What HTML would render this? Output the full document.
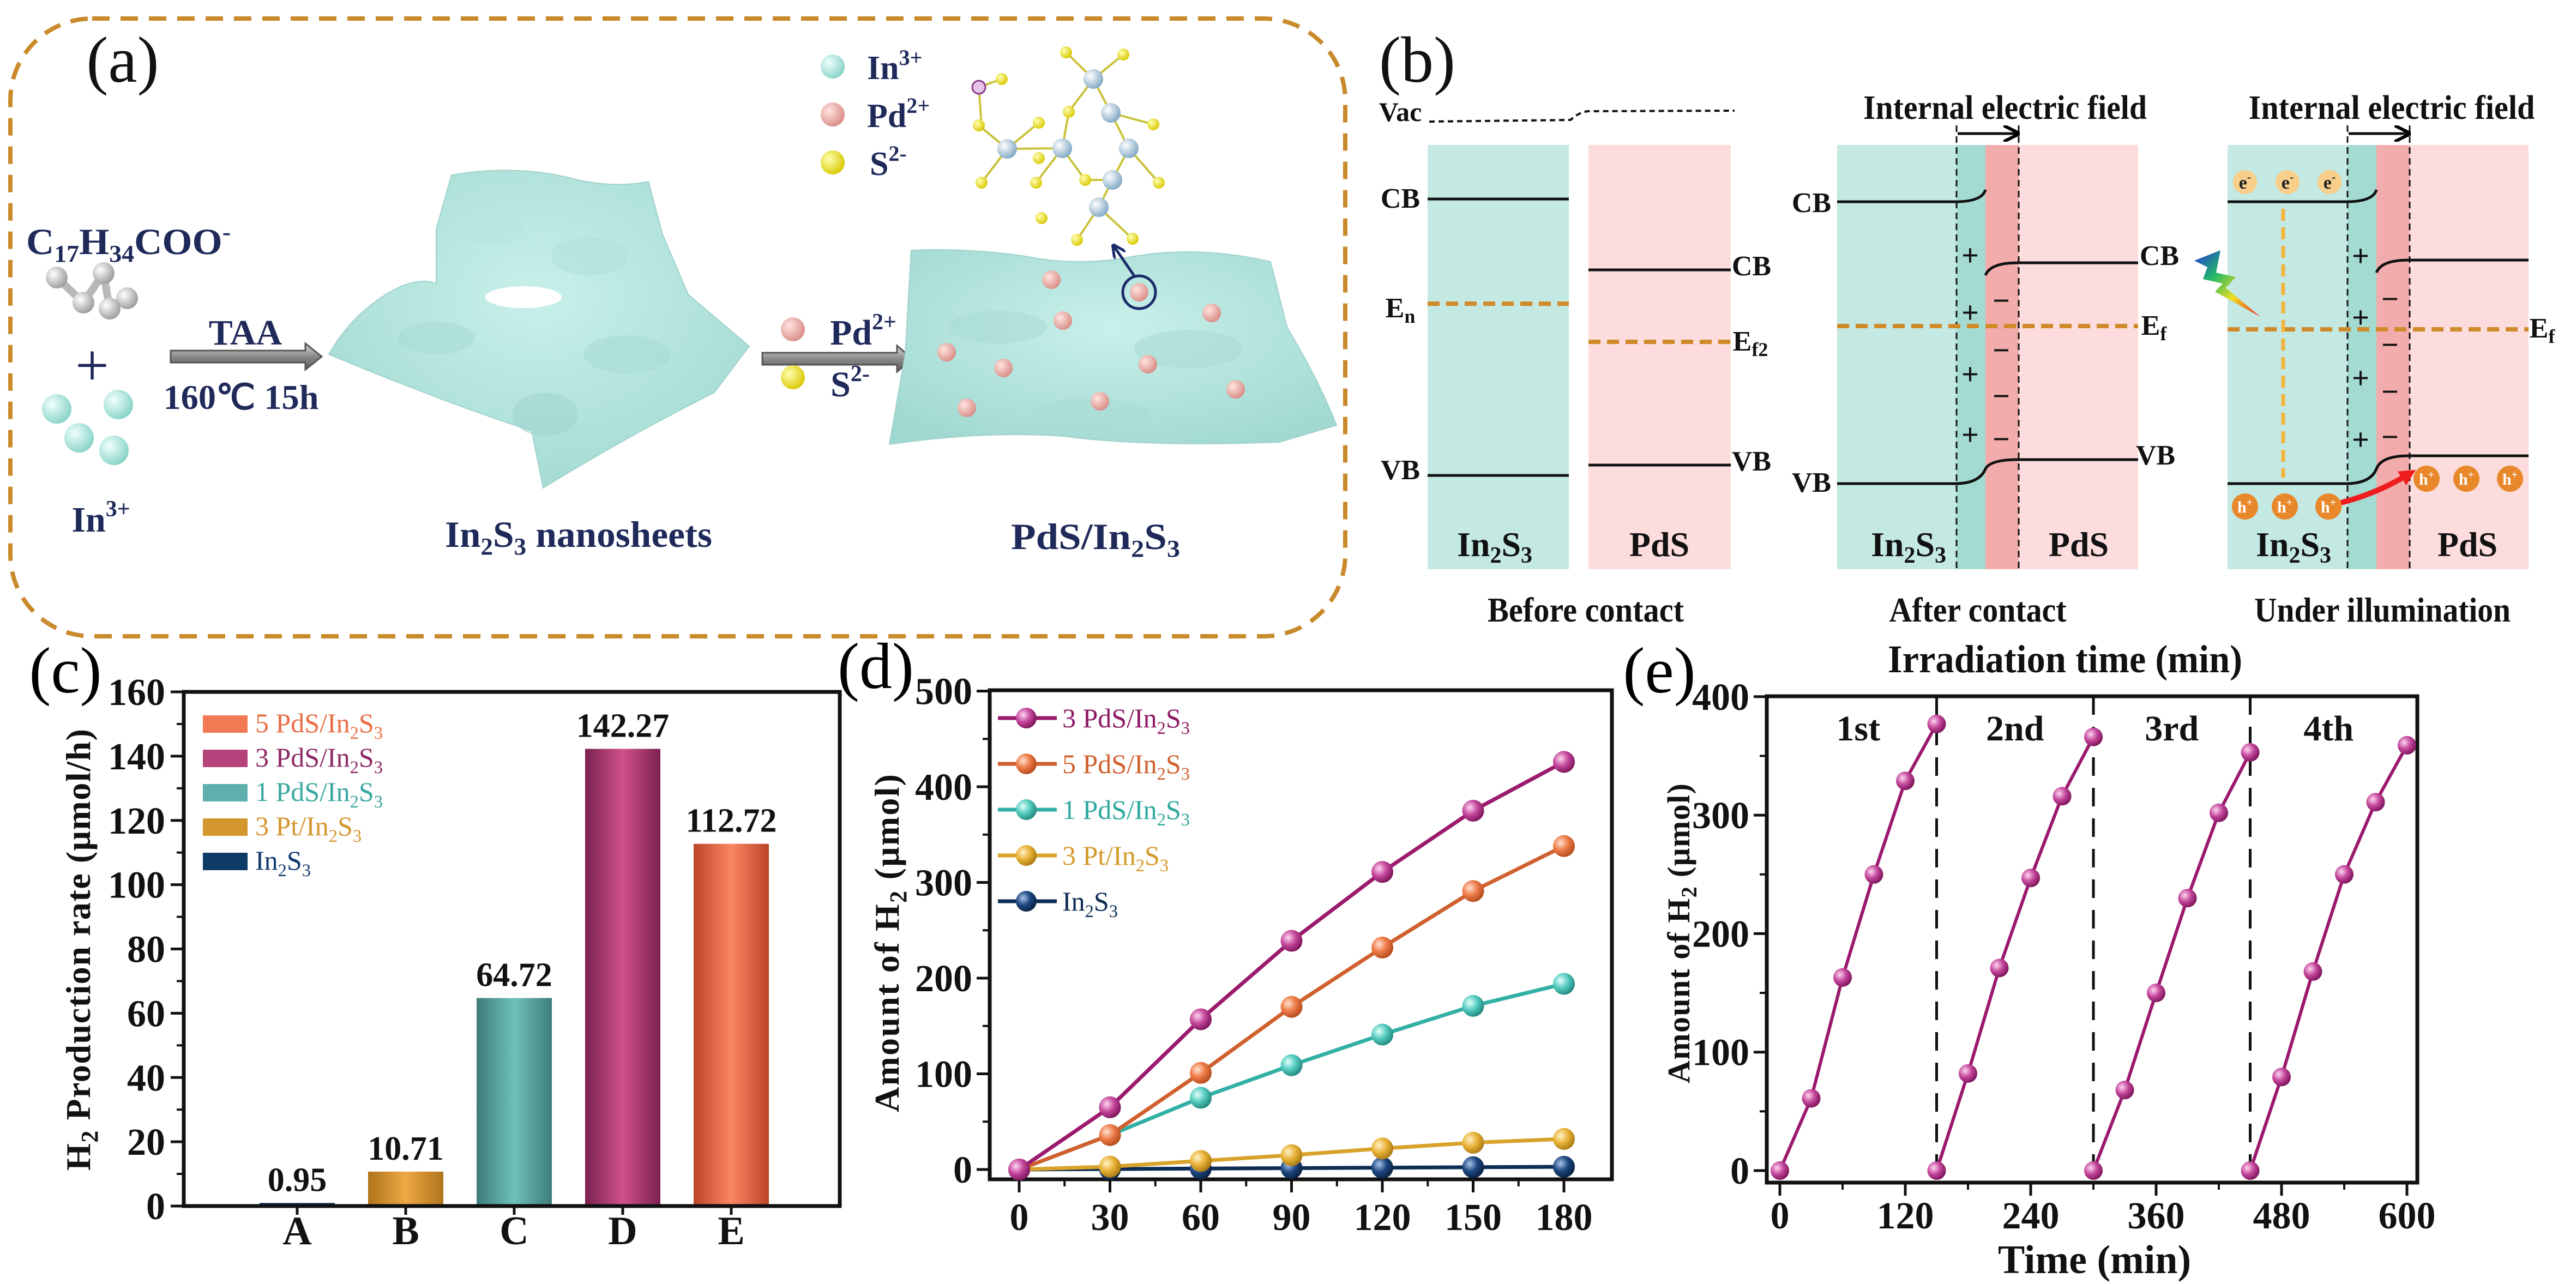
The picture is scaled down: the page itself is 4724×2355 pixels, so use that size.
<!DOCTYPE html>
<html><head><meta charset="utf-8"><title>PdS/In2S3 figure</title>
<style>
html,body{margin:0;padding:0;background:#fff;}
svg{display:block;}
text{font-family:"Liberation Serif",serif;font-weight:bold;}
</style></head>
<body>
<svg id="fig" xmlns="http://www.w3.org/2000/svg" width="4724" height="2355" viewBox="0 0 4724 2355">
<defs>
  <linearGradient id="gB" x1="0" x2="1"><stop offset="0" stop-color="#b0741c"/><stop offset="0.5" stop-color="#eda944"/><stop offset="1" stop-color="#b0741c"/></linearGradient>
  <linearGradient id="gC" x1="0" x2="1"><stop offset="0" stop-color="#3d7c79"/><stop offset="0.5" stop-color="#6fc0bb"/><stop offset="1" stop-color="#3d7c79"/></linearGradient>
  <linearGradient id="gD" x1="0" x2="1"><stop offset="0" stop-color="#7a2150"/><stop offset="0.5" stop-color="#d0508c"/><stop offset="1" stop-color="#7a2150"/></linearGradient>
  <linearGradient id="gE" x1="0" x2="1"><stop offset="0" stop-color="#bc4428"/><stop offset="0.5" stop-color="#fb8663"/><stop offset="1" stop-color="#bc4428"/></linearGradient>
  <linearGradient id="gA" x1="0" x2="1"><stop offset="0" stop-color="#0b2c55"/><stop offset="1" stop-color="#0b2c55"/></linearGradient>
  <radialGradient id="mP" cx="0.35" cy="0.35" r="0.7"><stop offset="0" stop-color="#ffd6f0"/><stop offset="0.5" stop-color="#c4479c"/><stop offset="1" stop-color="#7a1257"/></radialGradient>
  <radialGradient id="mO" cx="0.35" cy="0.35" r="0.7"><stop offset="0" stop-color="#ffe1cf"/><stop offset="0.5" stop-color="#ee7a48"/><stop offset="1" stop-color="#b24a1c"/></radialGradient>
  <radialGradient id="mT" cx="0.35" cy="0.35" r="0.7"><stop offset="0" stop-color="#e4fffb"/><stop offset="0.5" stop-color="#55cbbf"/><stop offset="1" stop-color="#21857c"/></radialGradient>
  <radialGradient id="mY" cx="0.35" cy="0.35" r="0.7"><stop offset="0" stop-color="#fff3c8"/><stop offset="0.5" stop-color="#e8b237"/><stop offset="1" stop-color="#a87812"/></radialGradient>
  <radialGradient id="mN" cx="0.35" cy="0.35" r="0.7"><stop offset="0" stop-color="#a8c4e8"/><stop offset="0.5" stop-color="#1d4780"/><stop offset="1" stop-color="#07203f"/></radialGradient>
  <radialGradient id="bCyan" cx="0.35" cy="0.35" r="0.7"><stop offset="0" stop-color="#f0fffc"/><stop offset="1" stop-color="#86d3c7"/></radialGradient>
  <radialGradient id="bPink" cx="0.35" cy="0.35" r="0.7"><stop offset="0" stop-color="#ffe4e0"/><stop offset="1" stop-color="#d98b85"/></radialGradient>
  <radialGradient id="bYel" cx="0.35" cy="0.35" r="0.7"><stop offset="0" stop-color="#ffffb0"/><stop offset="1" stop-color="#d9c800"/></radialGradient>
  <radialGradient id="bGray" cx="0.35" cy="0.35" r="0.7"><stop offset="0" stop-color="#ffffff"/><stop offset="1" stop-color="#9a9a9a"/></radialGradient>
  <radialGradient id="bBlue" cx="0.35" cy="0.35" r="0.7"><stop offset="0" stop-color="#ffffff"/><stop offset="1" stop-color="#7fa7c4"/></radialGradient>
  <radialGradient id="sheet" cx="0.5" cy="0.4" r="0.7"><stop offset="0" stop-color="#c9f0ea"/><stop offset="1" stop-color="#9fd8d0"/></radialGradient>
  <linearGradient id="arrowG" x1="0" y1="0" x2="0" y2="1"><stop offset="0" stop-color="#d8d8d8"/><stop offset="0.5" stop-color="#8a8a8a"/><stop offset="1" stop-color="#5a5a5a"/></linearGradient>
  <linearGradient id="bolt" x1="0" y1="0" x2="1" y2="1"><stop offset="0" stop-color="#2233dd"/><stop offset="0.35" stop-color="#22bb66"/><stop offset="0.65" stop-color="#eedd22"/><stop offset="1" stop-color="#ee2222"/></linearGradient>
  <marker id="arrHead" viewBox="0 0 10 10" refX="8" refY="5" markerWidth="6" markerHeight="6" orient="auto"><path d="M0,0 L10,5 L0,10" fill="none" stroke="#000" stroke-width="2"/></marker>
  <marker id="navyHead" viewBox="0 0 10 10" refX="8" refY="5" markerWidth="5" markerHeight="5" orient="auto"><path d="M0,0 L10,5 L0,10" fill="none" stroke="#1a2a6a" stroke-width="2"/></marker>
  <marker id="redHead" viewBox="0 0 10 10" refX="6" refY="5" markerWidth="3" markerHeight="3" orient="auto"><path d="M0,0 L10,5 L0,10 Z" fill="#ee1c1c"/></marker>
</defs>

<!-- ================= PANEL (a) ================= -->
<g>
  <rect x="19" y="34" width="2448" height="1133" rx="150" ry="150" fill="none" stroke="#c98a2c" stroke-width="8" stroke-dasharray="32 20"/>
  <text x="225" y="150" font-size="120" style="font-weight:normal" text-anchor="middle" fill="#111">(a)</text>
  <text x="48" y="466" font-size="68" fill="#1f2a5a" textLength="375" lengthAdjust="spacingAndGlyphs">C<tspan font-size="44" dy="14">17</tspan><tspan dy="-14">H</tspan><tspan font-size="44" dy="14">34</tspan><tspan dy="-14">COO</tspan><tspan font-size="44" dy="-26">-</tspan></text>
  <g stroke="#b8b8b8" stroke-width="14">
    <line x1="104" y1="509" x2="153" y2="555"/><line x1="153" y1="555" x2="190" y2="501"/><line x1="190" y1="501" x2="201" y2="566"/><line x1="201" y1="566" x2="233" y2="547"/>
    <circle cx="104" cy="509" r="20" fill="url(#bGray)" stroke="none"/><circle cx="190" cy="501" r="20" fill="url(#bGray)" stroke="none"/><circle cx="153" cy="555" r="20" fill="url(#bGray)" stroke="none"/><circle cx="233" cy="547" r="20" fill="url(#bGray)" stroke="none"/><circle cx="201" cy="566" r="20" fill="url(#bGray)" stroke="none"/>
  </g>
  <text x="169" y="707" font-size="110" style="font-weight:normal" text-anchor="middle" fill="#1f2a5a">+</text>
  <g>
    <circle cx="104" cy="750" r="27" fill="url(#bCyan)"/><circle cx="217" cy="742" r="27" fill="url(#bCyan)"/><circle cx="145" cy="803" r="27" fill="url(#bCyan)"/><circle cx="209" cy="826" r="27" fill="url(#bCyan)"/>
  </g>
  <text x="185" y="975" font-size="66" text-anchor="middle" fill="#1f2a5a">In<tspan font-size="42" dy="-28">3+</tspan></text>
  <g>
    <path d="M313,643 L560,643 L560,630 L590,654 L560,678 L560,665 L313,665 Z" fill="url(#arrowG)" stroke="#555" stroke-width="3"/>
  </g>
  <text x="450" y="632" font-size="66" text-anchor="middle" fill="#1f2a5a">TAA</text>
  <text x="442" y="750" font-size="64" text-anchor="middle" fill="#1f2a5a" textLength="285" lengthAdjust="spacingAndGlyphs">160℃ 15h</text>
  <g>
    <path d="M828,321 Q950,300 1060,330 Q1130,345 1189,333 L1215,430 L1262,540 L1374,635 L1310,720 Q1150,800 996,895 L975,790 Q820,740 603,650 Q640,585 700,545 Q760,505 800,520 L800,420 Z" fill="url(#sheet)" stroke="#9fd3cb" stroke-width="2"/>
    <ellipse cx="960" cy="545" rx="70" ry="20" fill="#fff"/>
    <ellipse cx="900" cy="420" rx="60" ry="30" fill="#b9e6df" opacity="0.7"/>
    <ellipse cx="1080" cy="470" rx="70" ry="35" fill="#b3e3dc" opacity="0.7"/>
    <ellipse cx="800" cy="620" rx="70" ry="30" fill="#a9dcd4" opacity="0.6"/>
    <ellipse cx="1150" cy="650" rx="80" ry="35" fill="#a9dcd4" opacity="0.6"/>
    <ellipse cx="1000" cy="760" rx="60" ry="40" fill="#a2d6ce" opacity="0.6"/>
  </g>
  <text x="1061" y="1003" font-size="68" text-anchor="middle" fill="#1f2a5a" textLength="490" lengthAdjust="spacingAndGlyphs">In<tspan font-size="44" dy="14">2</tspan><tspan dy="-14">S</tspan><tspan font-size="44" dy="14">3</tspan><tspan dy="-14"> nanosheets</tspan></text>
  <g>
    <path d="M1398,647 L1645,647 L1645,634 L1673,658 L1645,682 L1645,669 L1398,669 Z" fill="url(#arrowG)" stroke="#555" stroke-width="3"/>
  </g>
  <circle cx="1454" cy="604" r="22" fill="url(#bPink)"/>
  <text x="1583" y="632" font-size="66" text-anchor="middle" fill="#1f2a5a">Pd<tspan font-size="42" dy="-28">2+</tspan></text>
  <circle cx="1454" cy="692" r="22" fill="url(#bYel)"/>
  <text x="1559" y="727" font-size="66" text-anchor="middle" fill="#1f2a5a">S<tspan font-size="42" dy="-28">2-</tspan></text>
  <g>
    <path d="M1671,459 Q1780,455 1880,470 Q1980,490 2080,470 Q2200,450 2330,480 L2360,600 Q2420,700 2451,780 L2346,811 Q2100,820 1950,800 Q1800,790 1631,815 L1660,650 Z" fill="url(#sheet)" stroke="#9fd3cb" stroke-width="2"/>
    <ellipse cx="1830" cy="600" rx="90" ry="30" fill="#aadcd4" opacity="0.6"/>
    <ellipse cx="2180" cy="640" rx="100" ry="35" fill="#aadcd4" opacity="0.6"/>
    <ellipse cx="2000" cy="760" rx="110" ry="30" fill="#aadcd4" opacity="0.5"/>
  </g>
  <g>
    <circle cx="1928" cy="513" r="17" fill="url(#bPink)"/><circle cx="2089" cy="536" r="17" fill="url(#bPink)"/><circle cx="1949" cy="588" r="17" fill="url(#bPink)"/><circle cx="2222" cy="574" r="17" fill="url(#bPink)"/><circle cx="1736" cy="646" r="17" fill="url(#bPink)"/><circle cx="1840" cy="675" r="17" fill="url(#bPink)"/><circle cx="2105" cy="668" r="17" fill="url(#bPink)"/><circle cx="2266" cy="714" r="17" fill="url(#bPink)"/><circle cx="1773" cy="748" r="17" fill="url(#bPink)"/><circle cx="2017" cy="736" r="17" fill="url(#bPink)"/>
  </g>
  <circle cx="2089" cy="536" r="30" fill="none" stroke="#1a2a6a" stroke-width="5"/>
  <line x1="2080" y1="506" x2="2043" y2="452" stroke="#1a2a6a" stroke-width="5" marker-end="url(#navyHead)"/>
  <text x="2009" y="1007" font-size="68" text-anchor="middle" fill="#1f2a5a" textLength="310" lengthAdjust="spacingAndGlyphs">PdS/In<tspan font-size="44" dy="14">2</tspan><tspan dy="-14">S</tspan><tspan font-size="44" dy="14">3</tspan></text>
  <g>
    <circle cx="1527" cy="122" r="22" fill="url(#bCyan)"/><text x="1590" y="145" font-size="62" fill="#1f2a5a">In<tspan font-size="40" dy="-26">3+</tspan></text>
    <circle cx="1527" cy="210" r="22" fill="url(#bPink)"/><text x="1590" y="233" font-size="62" fill="#1f2a5a">Pd<tspan font-size="40" dy="-26">2+</tspan></text>
    <circle cx="1527" cy="298" r="22" fill="url(#bYel)"/><text x="1595" y="321" font-size="62" fill="#1f2a5a">S<tspan font-size="40" dy="-26">2-</tspan></text>
  </g>
  <g stroke="#c9c23a" stroke-width="4">
    <line x1="1955" y1="96" x2="2005" y2="145"/><line x1="2060" y1="100" x2="2005" y2="145"/><line x1="2005" y1="145" x2="2037" y2="207"/><line x1="2037" y1="207" x2="2070" y2="272"/><line x1="2005" y1="145" x2="1960" y2="205"/><line x1="1960" y1="205" x2="1948" y2="272"/><line x1="1948" y1="272" x2="1847" y2="273"/><line x1="1847" y1="273" x2="1795" y2="230"/><line x1="1948" y1="272" x2="1900" y2="335"/><line x1="1948" y1="272" x2="1990" y2="330"/><line x1="2070" y1="272" x2="2040" y2="330"/><line x1="2040" y1="330" x2="2015" y2="380"/><line x1="2015" y1="380" x2="1975" y2="440"/><line x1="2015" y1="380" x2="2077" y2="438"/><line x1="2070" y1="272" x2="2125" y2="335"/><line x1="2037" y1="207" x2="2115" y2="228"/><line x1="1847" y1="273" x2="1800" y2="335"/><line x1="1847" y1="273" x2="1905" y2="225"/><line x1="1990" y1="330" x2="2040" y2="330"/><line x1="1795" y1="160" x2="1800" y2="230"/><line x1="1795" y1="160" x2="1837" y2="145"/>
    <g stroke="none" fill="url(#bYel)">
      <circle cx="1955" cy="96" r="11"/><circle cx="2060" cy="100" r="11"/><circle cx="1960" cy="205" r="11"/><circle cx="2115" cy="228" r="11"/><circle cx="1795" cy="230" r="11"/><circle cx="1900" cy="335" r="11"/><circle cx="1990" cy="330" r="11"/><circle cx="2125" cy="335" r="11"/><circle cx="1975" cy="440" r="11"/><circle cx="2077" cy="438" r="11"/><circle cx="1800" cy="335" r="11"/><circle cx="1905" cy="225" r="11"/><circle cx="1837" cy="145" r="11"/><circle cx="1905" cy="290" r="11"/><circle cx="1910" cy="400" r="11"/>
    </g>
    <g stroke="none" fill="url(#bBlue)">
      <circle cx="2005" cy="145" r="18"/><circle cx="2037" cy="207" r="18"/><circle cx="1948" cy="272" r="18"/><circle cx="1847" cy="273" r="18"/><circle cx="2070" cy="272" r="18"/><circle cx="2040" cy="330" r="18"/><circle cx="2015" cy="380" r="18"/>
    </g>
    <circle cx="1795" cy="160" r="12" fill="#e6c6e8" stroke="#8a3a8a" stroke-width="3"/>
  </g>
</g>

<!-- ================= PANEL (b) ================= -->
<g>
  <text x="2599" y="150" font-size="120" style="font-weight:normal" text-anchor="middle" fill="#111">(b)</text>
  <text x="2568" y="222" font-size="50" text-anchor="middle" fill="#111">Vac</text>
  <path d="M2621,223 L2880,220 Q2895,206 2912,204 L3181,203" fill="none" stroke="#111" stroke-width="4" stroke-dasharray="10 7"/>
  <g>
    <rect x="2618" y="266" width="259" height="778" fill="#c4e8e2"/>
    <rect x="2913" y="266" width="261" height="778" fill="#fcdcdc"/>
    <line x1="2618" y1="365" x2="2877" y2="365" stroke="#111" stroke-width="5"/>
    <line x1="2618" y1="872" x2="2877" y2="872" stroke="#111" stroke-width="5"/>
    <line x1="2618" y1="557" x2="2877" y2="557" stroke="#d08a2a" stroke-width="8" stroke-dasharray="22 12"/>
    <line x1="2913" y1="495" x2="3174" y2="495" stroke="#111" stroke-width="5"/>
    <line x1="2913" y1="853" x2="3174" y2="853" stroke="#111" stroke-width="5"/>
    <line x1="2913" y1="627" x2="3174" y2="627" stroke="#d08a2a" stroke-width="8" stroke-dasharray="22 12"/>
    <g font-size="52" fill="#111">
      <text x="2568" y="381" text-anchor="middle">CB</text>
      <text x="2568" y="582" text-anchor="middle">E<tspan font-size="36" dy="10">n</tspan></text>
      <text x="2568" y="879" text-anchor="middle">VB</text>
      <text x="3212" y="505" text-anchor="middle">CB</text>
      <text x="3210" y="643" text-anchor="middle">E<tspan font-size="36" dy="10">f2</tspan></text>
      <text x="3212" y="863" text-anchor="middle">VB</text>
    </g>
    <text x="2741" y="1020" font-size="64" text-anchor="middle" fill="#111">In<tspan font-size="42" dy="12">2</tspan><tspan dy="-12">S</tspan><tspan font-size="42" dy="12">3</tspan></text>
    <text x="3043" y="1020" font-size="64" text-anchor="middle" fill="#111">PdS</text>
  </g>
  <text x="2908" y="1140" font-size="64" text-anchor="middle" fill="#111" textLength="360" lengthAdjust="spacingAndGlyphs">Before contact</text>
  <g>
    <rect x="3369" y="266" width="272" height="778" fill="#c4e8e2"/>
    <rect x="3588" y="266" width="53" height="778" fill="#a3dbd2"/>
    <rect x="3641" y="266" width="61" height="778" fill="#f2acac"/>
    <rect x="3702" y="266" width="219" height="778" fill="#fcdcdc"/>
    <line x1="3588" y1="230" x2="3588" y2="1044" stroke="#111" stroke-width="3" stroke-dasharray="12 8"/>
    <line x1="3702" y1="230" x2="3702" y2="1044" stroke="#111" stroke-width="3" stroke-dasharray="12 8"/>
    <line x1="3590" y1="245" x2="3698" y2="245" stroke="#111" stroke-width="5" marker-end="url(#arrHead)"/>
    <path d="M3369,370 L3585,370 Q3635,370 3641,348" fill="none" stroke="#111" stroke-width="5"/>
    <path d="M3641,505 Q3650,482 3700,482 L3921,482" fill="none" stroke="#111" stroke-width="5"/>
    <line x1="3369" y1="598" x2="3921" y2="598" stroke="#d08a2a" stroke-width="8" stroke-dasharray="22 12"/>
    <path d="M3369,887 L3585,887 Q3630,887 3641,860 Q3650,843 3700,843 L3921,843" fill="none" stroke="#111" stroke-width="5"/>
    <g font-size="56" fill="#111" text-anchor="middle" style="font-weight:normal">
      <text x="3613" y="487">+</text><text x="3613" y="592">+</text><text x="3613" y="705">+</text><text x="3613" y="816">+</text>
      <text x="3670" y="570">−</text><text x="3670" y="661">−</text><text x="3670" y="745">−</text><text x="3670" y="824">−</text>
    </g>
    <g font-size="52" fill="#111">
      <text x="3322" y="389" text-anchor="middle">CB</text>
      <text x="3960" y="486" text-anchor="middle">CB</text>
      <text x="3950" y="614" text-anchor="middle">E<tspan font-size="36" dy="10">f</tspan></text>
      <text x="3953" y="852" text-anchor="middle">VB</text>
      <text x="3322" y="902" text-anchor="middle">VB</text>
    </g>
    <text x="3500" y="1020" font-size="64" text-anchor="middle" fill="#111">In<tspan font-size="42" dy="12">2</tspan><tspan dy="-12">S</tspan><tspan font-size="42" dy="12">3</tspan></text>
    <text x="3812" y="1020" font-size="64" text-anchor="middle" fill="#111">PdS</text>
  </g>
  <text x="3677" y="218" font-size="62" text-anchor="middle" fill="#111" textLength="520" lengthAdjust="spacingAndGlyphs">Internal electric field</text>
  <text x="3627" y="1140" font-size="64" text-anchor="middle" fill="#111" textLength="325" lengthAdjust="spacingAndGlyphs">After contact</text>
  <g>
    <rect x="4085" y="266" width="273" height="778" fill="#c4e8e2"/>
    <rect x="4305" y="266" width="53" height="778" fill="#a3dbd2"/>
    <rect x="4358" y="266" width="61" height="778" fill="#f2acac"/>
    <rect x="4419" y="266" width="218" height="778" fill="#fcdcdc"/>
    <line x1="4305" y1="230" x2="4305" y2="1044" stroke="#111" stroke-width="3" stroke-dasharray="12 8"/>
    <line x1="4419" y1="230" x2="4419" y2="1044" stroke="#111" stroke-width="3" stroke-dasharray="12 8"/>
    <line x1="4307" y1="245" x2="4415" y2="245" stroke="#111" stroke-width="5" marker-end="url(#arrHead)"/>
    <path d="M4085,370 L4302,370 Q4352,370 4358,348" fill="none" stroke="#111" stroke-width="5"/>
    <path d="M4358,500 Q4367,477 4417,477 L4637,477" fill="none" stroke="#111" stroke-width="5"/>
    <line x1="4085" y1="604" x2="4637" y2="604" stroke="#d08a2a" stroke-width="8" stroke-dasharray="22 12"/>
    <line x1="4187" y1="383" x2="4187" y2="876" stroke="#f2b43c" stroke-width="7" stroke-dasharray="22 12"/>
    <path d="M4085,887 L4302,887 Q4347,887 4358,860 Q4367,836 4417,836 L4637,836" fill="none" stroke="#111" stroke-width="5"/>
    <g font-size="56" fill="#111" text-anchor="middle" style="font-weight:normal">
      <text x="4329" y="488">+</text><text x="4329" y="601">+</text><text x="4329" y="712">+</text><text x="4329" y="825">+</text>
      <text x="4383" y="567">−</text><text x="4383" y="651">−</text><text x="4383" y="737">−</text><text x="4383" y="820">−</text>
    </g>
    <g>
      <circle cx="4117" cy="334" r="22" fill="#f7cf8a"/><circle cx="4195" cy="334" r="22" fill="#f7cf8a"/><circle cx="4272" cy="334" r="22" fill="#f7cf8a"/>
      <g font-size="34" fill="#222" text-anchor="middle"><text x="4117" y="346">e<tspan font-size="22" dy="-14">-</tspan></text><text x="4195" y="346">e<tspan font-size="22" dy="-14">-</tspan></text><text x="4272" y="346">e<tspan font-size="22" dy="-14">-</tspan></text></g>
    </g>
    <g>
      <circle cx="4117" cy="929" r="24" fill="#e8882a"/><circle cx="4190" cy="929" r="24" fill="#e8882a"/><circle cx="4270" cy="929" r="24" fill="#e8882a"/>
      <circle cx="4450" cy="878" r="24" fill="#e8882a"/><circle cx="4523" cy="878" r="24" fill="#e8882a"/><circle cx="4603" cy="878" r="24" fill="#e8882a"/>
      <g font-size="30" fill="#fff" text-anchor="middle"><text x="4117" y="940">h<tspan font-size="20" dy="-12">+</tspan></text><text x="4190" y="940">h<tspan font-size="20" dy="-12">+</tspan></text><text x="4270" y="940">h<tspan font-size="20" dy="-12">+</tspan></text><text x="4450" y="889">h<tspan font-size="20" dy="-12">+</tspan></text><text x="4523" y="889">h<tspan font-size="20" dy="-12">+</tspan></text><text x="4603" y="889">h<tspan font-size="20" dy="-12">+</tspan></text></g>
    </g>
    <path d="M4293,922 Q4360,905 4420,868" fill="none" stroke="#ee1c1c" stroke-width="10" marker-end="url(#redHead)"/>
    <path d="M4024,478 L4072,459 L4064,500 L4100,508 L4082,528 L4145,581 L4062,535 L4076,520 L4040,512 L4048,490 Z" fill="url(#bolt)"/>
    <g font-size="52" fill="#111"><text x="4662" y="619" text-anchor="middle">E<tspan font-size="36" dy="10">f</tspan></text></g>
    <text x="4206" y="1020" font-size="64" text-anchor="middle" fill="#111">In<tspan font-size="42" dy="12">2</tspan><tspan dy="-12">S</tspan><tspan font-size="42" dy="12">3</tspan></text>
    <text x="4525" y="1020" font-size="64" text-anchor="middle" fill="#111">PdS</text>
  </g>
  <text x="4386" y="218" font-size="62" text-anchor="middle" fill="#111" textLength="525" lengthAdjust="spacingAndGlyphs">Internal electric field</text>
  <text x="4369" y="1140" font-size="64" text-anchor="middle" fill="#111" textLength="470" lengthAdjust="spacingAndGlyphs">Under illumination</text>
</g>

<g id="panelC"></g>
<g id="panelD"></g>
<g id="panelE"></g>
</svg>

<script>
// ---------- Panel (c) data ----------
const cCategories = ['A','B','C','D','E'];
const cValues = [0.95, 10.71, 64.72, 142.27, 112.72];
const cValueLabels = ['0.95','10.71','64.72','142.27','112.72'];
const cFills = ['url(#gA)','url(#gB)','url(#gC)','url(#gD)','url(#gE)'];
const cYTicks = [0,20,40,60,80,100,120,140,160];
const cLegendNames = ['5 PdS/In2S3','3 PdS/In2S3','1 PdS/In2S3','3 Pt/In2S3','In2S3'];
const cLegendColors = ['#f27a55','#b3437a','#5fb0ac','#d4962e','#0e3a66'];
const cLegendText = ['#ea6d45','#8e2a66','#3aa8a0','#d4962e','#123a70'];

// ---------- Panel (d) data ----------
const dTimes = [0,30,60,90,120,150,180];
const dSeries3PdS = [0,65,157,239,311,375,426];
const dSeries5PdS = [0,36,101,170,232,291,338];
const dSeries1PdS = [0,36,75,109,141,171,194];
const dSeries3Pt = [0,3,9,15,22,28,32];
const dSeriesIn2S3 = [0,0.5,1,1.4,1.9,2.4,2.85];
const dXTicks = [0,30,60,90,120,150,180];
const dYTicks = [0,100,200,300,400,500];
const dLegendNames = ['3 PdS/In2S3','5 PdS/In2S3','1 PdS/In2S3','3 Pt/In2S3','In2S3'];

// ---------- Panel (e) data ----------
const eCycleStarts = [0,150,300,450];
const eOffsets = [0,30,60,90,120,150];
const eCycle1 = [0,61,163,250,329,377];
const eCycle2 = [0,82,171,247,316,366];
const eCycle3 = [0,68,150,230,302,353];
const eCycle4 = [0,79,168,250,311,359];
const eCycleLabels = ['1st','2nd','3rd','4th'];
const eXTicks = [0,120,240,360,480,600];
const eYTicks = [0,100,200,300,400];

const NS = 'http://www.w3.org/2000/svg';
function el(tag, parent){ const e = document.createElementNS(NS, tag); parent.appendChild(e); return e; }
function subHTML(s){ return s.replace(/In2S3/g,'In<tspan dy="12" font-size="0.65em">2</tspan><tspan dy="-12">S</tspan><tspan dy="12" font-size="0.65em">3</tspan>'); }

// ===== Panel C =====
(function(){
  const g = document.getElementById('panelC');
  const L=337,R=1540,T=1269,B=2212, yMax=160;
  const yC = v => B - v*(B-T)/yMax;
  const xC = i => 545 + i*199;
  const bw = 138;
  const lbl = el('text', g); lbl.setAttribute('x',120); lbl.setAttribute('y',1270); lbl.setAttribute('font-size',120); lbl.setAttribute('style','font-weight:normal'); lbl.setAttribute('text-anchor','middle'); lbl.textContent='(c)';
  
  
  cValues.forEach((v,i)=>{
    const r = el('rect', g);
    r.setAttribute('x', xC(i)-bw/2); r.setAttribute('y', yC(v)); r.setAttribute('width', bw); r.setAttribute('height', Math.max(B-yC(v),1)); r.setAttribute('fill', cFills[i]);
    
    
    const t = el('text', g);
    t.setAttribute('x', xC(i)); t.setAttribute('y', yC(v)-22); t.setAttribute('font-size',62); t.setAttribute('text-anchor','middle'); t.setAttribute('fill','#111'); t.textContent = cValueLabels[i];
    
    
    const xl = el('text', g);
    xl.setAttribute('x', xC(i)); xl.setAttribute('y', 2282); xl.setAttribute('font-size',74); xl.setAttribute('text-anchor','middle'); xl.setAttribute('fill','#111'); xl.textContent = cCategories[i];
    
    
    const tk = el('line', g);
    tk.setAttribute('x1', xC(i)); tk.setAttribute('x2', xC(i)); tk.setAttribute('y1', B); tk.setAttribute('y2', B+16); tk.setAttribute('stroke','#111'); tk.setAttribute('stroke-width',5);
    
    
  });
  const frame = el('rect', g);
  frame.setAttribute('x',L); frame.setAttribute('y',T); frame.setAttribute('width',R-L); frame.setAttribute('height',B-T); frame.setAttribute('fill','none'); frame.setAttribute('stroke','#111'); frame.setAttribute('stroke-width',7);
  
  
  cYTicks.forEach((v,i)=>{
    const tk = el('line', g);
    tk.setAttribute('x1',L); tk.setAttribute('x2',L-24); tk.setAttribute('y1',yC(v)); tk.setAttribute('y2',yC(v)); tk.setAttribute('stroke','#111'); tk.setAttribute('stroke-width',5);
    
    
    if(i<cYTicks.length-1){
      const m = el('line', g);
      const mv=(v+cYTicks[i+1])/2;
      m.setAttribute('x1',L); m.setAttribute('x2',L-13); m.setAttribute('y1',yC(mv)); m.setAttribute('y2',yC(mv)); m.setAttribute('stroke','#111'); m.setAttribute('stroke-width',4);
      
      
    }
    const t = el('text', g);
    t.setAttribute('x',L-34); t.setAttribute('y',yC(v)+24); t.setAttribute('font-size',70); t.setAttribute('text-anchor','end'); t.setAttribute('fill','#111'); t.textContent = v;
    
    
  });
  const yt = el('text', g);
  yt.setAttribute('x',0); yt.setAttribute('y',0); yt.setAttribute('font-size',64); yt.setAttribute('text-anchor','middle'); yt.setAttribute('fill','#111');
  yt.setAttribute('transform','translate(165,1742) rotate(-90)');
  yt.setAttribute('textLength',810); yt.setAttribute('lengthAdjust','spacing');
  yt.innerHTML = 'H<tspan dy="14" font-size="44">2</tspan><tspan dy="-14"> Production rate (μmol/h)</tspan>';
  
  
  cLegendNames.forEach((n,i)=>{
    const yy = 1327 + i*63;
    const s = el('rect', g);
    s.setAttribute('x',372); s.setAttribute('y',yy-15); s.setAttribute('width',82); s.setAttribute('height',32); s.setAttribute('fill',cLegendColors[i]);
    
    
    const t = el('text', g);
    t.setAttribute('x',468); t.setAttribute('y',yy+16); t.setAttribute('font-size',50); t.setAttribute('fill',cLegendText[i]); t.setAttribute('style','font-weight:normal');
    t.innerHTML = subHTML(n);
    
    
  });
})();

// ===== Panel D =====
(function(){
  const g = document.getElementById('panelD');
  const L=1815,R=2956,T=1266,B=2163;
  const xD = t => 1869 + t*(999/180);
  const yD = v => 2145 - v*1.755;
  const lbl = el('text', g); lbl.setAttribute('x',1606); lbl.setAttribute('y',1262); lbl.setAttribute('font-size',120); lbl.setAttribute('style','font-weight:normal'); lbl.setAttribute('text-anchor','middle'); lbl.textContent='(d)';
  
  
  const frame = el('rect', g);
  frame.setAttribute('x',L); frame.setAttribute('y',T); frame.setAttribute('width',R-L); frame.setAttribute('height',B-T); frame.setAttribute('fill','none'); frame.setAttribute('stroke','#111'); frame.setAttribute('stroke-width',7);
  
  
  dXTicks.forEach((v,i)=>{
    const tk = el('line', g);
    tk.setAttribute('x1',xD(v)); tk.setAttribute('x2',xD(v)); tk.setAttribute('y1',B); tk.setAttribute('y2',B+24); tk.setAttribute('stroke','#111'); tk.setAttribute('stroke-width',5);
    
    
    if(i<dXTicks.length-1){
      const m = el('line', g); const mv=(v+dXTicks[i+1])/2;
      m.setAttribute('x1',xD(mv)); m.setAttribute('x2',xD(mv)); m.setAttribute('y1',B); m.setAttribute('y2',B+13); m.setAttribute('stroke','#111'); m.setAttribute('stroke-width',4);
      
      
    }
    const t = el('text', g);
    t.setAttribute('x',xD(v)); t.setAttribute('y',2256); t.setAttribute('font-size',70); t.setAttribute('text-anchor','middle'); t.setAttribute('fill','#111'); t.textContent=v;
    
    
  });
  dYTicks.forEach((v,i)=>{
    const tk = el('line', g);
    tk.setAttribute('x1',L); tk.setAttribute('x2',L-24); tk.setAttribute('y1',yD(v)); tk.setAttribute('y2',yD(v)); tk.setAttribute('stroke','#111'); tk.setAttribute('stroke-width',5);
    
    
    if(i<dYTicks.length-1){
      const m = el('line', g); const mv=(v+dYTicks[i+1])/2;
      m.setAttribute('x1',L); m.setAttribute('x2',L-13); m.setAttribute('y1',yD(mv)); m.setAttribute('y2',yD(mv)); m.setAttribute('stroke','#111'); m.setAttribute('stroke-width',4);
      
      
    }
    const t = el('text', g);
    t.setAttribute('x',L-32); t.setAttribute('y',yD(v)+24); t.setAttribute('font-size',70); t.setAttribute('text-anchor','end'); t.setAttribute('fill','#111'); t.textContent=v;
    
    
  });
  const yt = el('text', g);
  yt.setAttribute('x',0); yt.setAttribute('y',0); yt.setAttribute('font-size',64); yt.setAttribute('text-anchor','middle'); yt.setAttribute('fill','#111');
  yt.setAttribute('transform','translate(1648,1730) rotate(-90)');
  yt.setAttribute('textLength',620); yt.setAttribute('lengthAdjust','spacing');
  yt.innerHTML = 'Amount of H<tspan dy="14" font-size="44">2</tspan><tspan dy="-14"> (μmol)</tspan>';
  
  
  const seriesList = [dSeriesIn2S3, dSeries3Pt, dSeries1PdS, dSeries5PdS, dSeries3PdS];
  const colors = ['#0e2d55','#d9a22a','#33b0a5','#d0602e','#9b1a6e'];
  const marks = ['url(#mN)','url(#mY)','url(#mT)','url(#mO)','url(#mP)'];
  const names = ['in2s3','3pt','1pds','5pds','3pds'];
  seriesList.forEach((s,k)=>{
    const pl = el('polyline', g);
    pl.setAttribute('points', s.map((v,i)=>xD(dTimes[i])+','+yD(v)).join(' '));
    pl.setAttribute('fill','none'); pl.setAttribute('stroke',colors[k]); pl.setAttribute('stroke-width',7);
    
    
    s.forEach((v,i)=>{
      const c = el('circle', g);
      c.setAttribute('cx',xD(dTimes[i])); c.setAttribute('cy',yD(v)); c.setAttribute('r',20); c.setAttribute('fill',marks[k]);
      
      
    });
  });
  const legColors = ['#9b1a6e','#d0602e','#33b0a5','#d9a22a','#0e2d55'];
  const legMarks = ['url(#mP)','url(#mO)','url(#mT)','url(#mY)','url(#mN)'];
  const legText = ['#8e1a66','#d0602e','#2fa89d','#d49a2a','#0e2d55'];
  dLegendNames.forEach((n,i)=>{
    const yy = 1317 + i*84;
    const ln = el('line', g);
    ln.setAttribute('x1',1830); ln.setAttribute('x2',1938); ln.setAttribute('y1',yy); ln.setAttribute('y2',yy); ln.setAttribute('stroke',legColors[i]); ln.setAttribute('stroke-width',7);
    
    
    const c = el('circle', g);
    c.setAttribute('cx',1882); c.setAttribute('cy',yy); c.setAttribute('r',19); c.setAttribute('fill',legMarks[i]);
    
    
    const t = el('text', g);
    t.setAttribute('x',1948); t.setAttribute('y',yy+17); t.setAttribute('font-size',50); t.setAttribute('fill',legText[i]); t.setAttribute('style','font-weight:normal');
    t.innerHTML = subHTML(n);
    
    
  });
})();

// ===== Panel E =====
(function(){
  const g = document.getElementById('panelE');
  const L=3240,R=4433,T=1277,B=2169;
  const xE = t => 3264 + t*(1150/600);
  const yE = v => 2147 - v*2.173;
  const lbl = el('text', g); lbl.setAttribute('x',3043); lbl.setAttribute('y',1270); lbl.setAttribute('font-size',120); lbl.setAttribute('style','font-weight:normal'); lbl.setAttribute('text-anchor','middle'); lbl.textContent='(e)';
  
  
  const top = el('text', g); top.setAttribute('x',3787); top.setAttribute('y',1233); top.setAttribute('font-size',72); top.setAttribute('text-anchor','middle'); top.setAttribute('fill','#111'); top.textContent='Irradiation time (min)';
  top.setAttribute('textLength',650); top.setAttribute('lengthAdjust','spacingAndGlyphs');
  
  
  const frame = el('rect', g);
  frame.setAttribute('x',L); frame.setAttribute('y',T); frame.setAttribute('width',R-L); frame.setAttribute('height',B-T); frame.setAttribute('fill','none'); frame.setAttribute('stroke','#111'); frame.setAttribute('stroke-width',7);
  
  
  eXTicks.forEach((v,i)=>{
    const tk = el('line', g);
    tk.setAttribute('x1',xE(v)); tk.setAttribute('x2',xE(v)); tk.setAttribute('y1',B); tk.setAttribute('y2',B+24); tk.setAttribute('stroke','#111'); tk.setAttribute('stroke-width',5);
    
    
    if(i<eXTicks.length-1){
      const m = el('line', g); const mv=(v+eXTicks[i+1])/2;
      m.setAttribute('x1',xE(mv)); m.setAttribute('x2',xE(mv)); m.setAttribute('y1',B); m.setAttribute('y2',B+13); m.setAttribute('stroke','#111'); m.setAttribute('stroke-width',4);
      
      
    }
    const t = el('text', g);
    t.setAttribute('x',xE(v)); t.setAttribute('y',2253); t.setAttribute('font-size',70); t.setAttribute('text-anchor','middle'); t.setAttribute('fill','#111'); t.textContent=v;
    
    
  });
  eYTicks.forEach((v,i)=>{
    const tk = el('line', g);
    tk.setAttribute('x1',L); tk.setAttribute('x2',L-24); tk.setAttribute('y1',yE(v)); tk.setAttribute('y2',yE(v)); tk.setAttribute('stroke','#111'); tk.setAttribute('stroke-width',5);
    
    
    if(i<eYTicks.length-1){
      const m = el('line', g); const mv=(v+eYTicks[i+1])/2;
      m.setAttribute('x1',L); m.setAttribute('x2',L-13); m.setAttribute('y1',yE(mv)); m.setAttribute('y2',yE(mv)); m.setAttribute('stroke','#111'); m.setAttribute('stroke-width',4);
      
      
    }
    const t = el('text', g);
    t.setAttribute('x',L-32); t.setAttribute('y',yE(v)+24); t.setAttribute('font-size',70); t.setAttribute('text-anchor','end'); t.setAttribute('fill','#111'); t.textContent=v;
    
    
  });
  const yt = el('text', g);
  yt.setAttribute('x',0); yt.setAttribute('y',0); yt.setAttribute('font-size',58); yt.setAttribute('text-anchor','middle'); yt.setAttribute('fill','#111');
  yt.setAttribute('transform','translate(3098,1712) rotate(-90)');
  yt.setAttribute('textLength',550); yt.setAttribute('lengthAdjust','spacing');
  yt.innerHTML = 'Amount of H<tspan dy="13" font-size="40">2</tspan><tspan dy="-13"> (μmol)</tspan>';
  
  
  const xt = el('text', g);
  xt.setAttribute('x',3841); xt.setAttribute('y',2335); xt.setAttribute('font-size',74); xt.setAttribute('text-anchor','middle'); xt.setAttribute('fill','#111'); xt.textContent='Time (min)';
  
  
  eCycleStarts.slice(1).forEach(s=>{
    const dl = el('line', g);
    dl.setAttribute('x1',xE(s)); dl.setAttribute('x2',xE(s)); dl.setAttribute('y1',T); dl.setAttribute('y2',B); dl.setAttribute('stroke','#111'); dl.setAttribute('stroke-width',5); dl.setAttribute('stroke-dasharray','34 22');
    
    
  });
  const cycles = [eCycle1, eCycle2, eCycle3, eCycle4];
  cycles.forEach((cy,k)=>{
    const pl = el('polyline', g);
    pl.setAttribute('points', cy.map((v,i)=>xE(eCycleStarts[k]+eOffsets[i])+','+yE(v)).join(' '));
    pl.setAttribute('fill','none'); pl.setAttribute('stroke','#9b1a6e'); pl.setAttribute('stroke-width',6);
    
    
    cy.forEach((v,i)=>{
      const c = el('circle', g);
      c.setAttribute('cx',xE(eCycleStarts[k]+eOffsets[i])); c.setAttribute('cy',yE(v)); c.setAttribute('r',17); c.setAttribute('fill','url(#mP)');
      
      
    });
    const t = el('text', g);
    t.setAttribute('x', xE(eCycleStarts[k]+75)); t.setAttribute('y',1358); t.setAttribute('font-size',66); t.setAttribute('text-anchor','middle'); t.setAttribute('fill','#111'); t.textContent = eCycleLabels[k];
    
    
  });
})();
</script>
</body></html>
